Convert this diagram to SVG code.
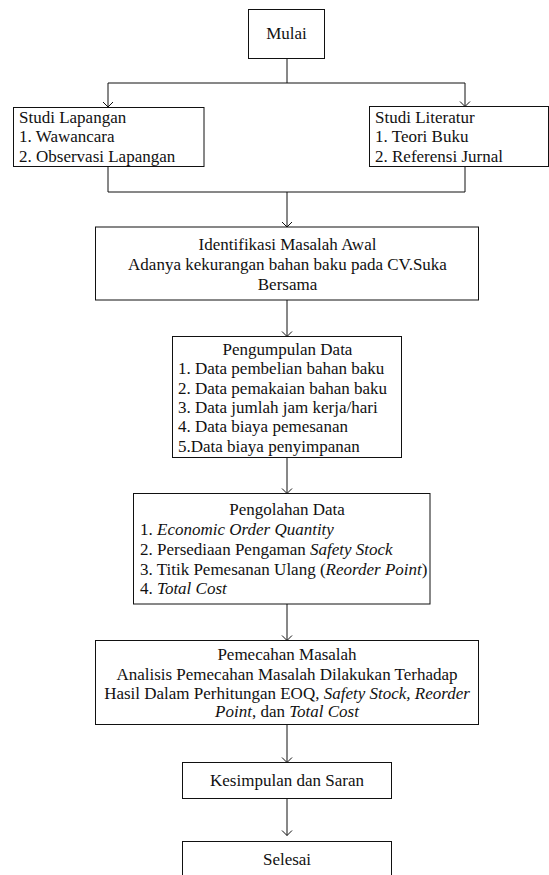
<svg xmlns="http://www.w3.org/2000/svg" width="549" height="875" viewBox="0 0 549 875">
<style>
  .box { fill: #fff; stroke: #111; stroke-width: 1; }
  .t { font-family: 'Liberation Serif', 'DejaVu Serif', serif; font-size: 17px; fill: #111; }
  .c { text-anchor: middle; }
  .i { font-style: italic; }
  .ln { fill: none; stroke: #111; stroke-width: 1; }
</style>
<defs>
  <marker id="arr" viewBox="-6 -6 12 12" refX="0" refY="0" markerWidth="12" markerHeight="12" markerUnits="userSpaceOnUse" orient="auto" overflow="visible">
    <path d="M-5,-5 L0,0 L-5,5" fill="none" stroke="#111" stroke-width="1"/>
  </marker>
</defs>
<rect width="549" height="875" fill="#fff"/>

<g id="connectors">
  <path class="ln" d="M287 58.5 V83"/>
  <path class="ln" d="M108 83 H465"/>
  <path class="ln" d="M108 83 V107" marker-end="url(#arr)"/>
  <path class="ln" d="M465 83 V106.5" marker-end="url(#arr)"/>
  <path class="ln" d="M108 166.5 V192 H465 V166.5"/>
  <path class="ln" d="M287 192 V227" marker-end="url(#arr)"/>
  <path class="ln" d="M287 300 V336.5" marker-end="url(#arr)"/>
  <path class="ln" d="M287 457.5 V493.5" marker-end="url(#arr)"/>
  <path class="ln" d="M287 604 V640.5" marker-end="url(#arr)"/>
  <path class="ln" d="M287 724.5 V762.5" marker-end="url(#arr)"/>
  <path class="ln" d="M287 798.5 V835.5" marker-end="url(#arr)"/>
</g>

<g id="mulai">
  <rect class="box" x="248.5" y="9.5" width="76" height="49"/>
  <text class="t c" x="286.5" y="39">Mulai</text>
</g>

<g id="studi-lapangan">
  <rect class="box" x="13.5" y="107.5" width="190.5" height="59"/>
  <text class="t" x="19" y="123">Studi Lapangan</text>
  <text class="t" x="19" y="142">1. Wawancara</text>
  <text class="t" x="19" y="161.5">2. Observasi Lapangan</text>
</g>

<g id="studi-literatur">
  <rect class="box" x="369.5" y="106.5" width="179" height="60"/>
  <text class="t" x="375" y="122.5">Studi Literatur</text>
  <text class="t" x="375" y="142">1. Teori Buku</text>
  <text class="t" x="375" y="161.5">2. Referensi Jurnal</text>
</g>

<g id="identifikasi">
  <rect class="box" x="95.5" y="227" width="383" height="73"/>
  <text class="t c" x="287.5" y="249.5">Identifikasi Masalah Awal</text>
  <text class="t c" x="287.5" y="270">Adanya kekurangan bahan baku pada CV.Suka</text>
  <text class="t c" x="287.5" y="289.5">Bersama</text>
</g>

<g id="pengumpulan">
  <rect class="box" x="172.5" y="336.5" width="229" height="121"/>
  <text class="t c" x="287.5" y="355">Pengumpulan Data</text>
  <text class="t" x="178" y="374">1. Data pembelian bahan baku</text>
  <text class="t" x="178" y="393.5">2. Data pemakaian bahan baku</text>
  <text class="t" x="178" y="413">3. Data jumlah jam kerja/hari</text>
  <text class="t" x="178" y="432">4. Data biaya pemesanan</text>
  <text class="t" x="178" y="451.5">5.Data biaya penyimpanan</text>
</g>

<g id="pengolahan">
  <rect class="box" x="133.5" y="493.5" width="296.5" height="110.5"/>
  <text class="t c" x="287" y="515">Pengolahan Data</text>
  <text class="t" x="140" y="535">1. <tspan class="i">Economic Order Quantity</tspan></text>
  <text class="t" x="140" y="555">2. Persediaan Pengaman <tspan class="i">Safety Stock</tspan></text>
  <text class="t" x="140" y="574.5">3. Titik Pemesanan Ulang (<tspan class="i">Reorder Point</tspan>)</text>
  <text class="t" x="140" y="593.5">4. <tspan class="i">Total Cost</tspan></text>
</g>

<g id="pemecahan">
  <rect class="box" x="95.5" y="640.5" width="383" height="84"/>
  <text class="t c" x="287" y="660">Pemecahan Masalah</text>
  <text class="t c" x="287" y="679.5">Analisis Pemecahan Masalah Dilakukan Terhadap</text>
  <text class="t c" x="287" y="699">Hasil Dalam Perhitungan EOQ, <tspan class="i">Safety Stock, Reorder</tspan></text>
  <text class="t c" x="287" y="717"><tspan class="i">Point</tspan>, dan <tspan class="i">Total Cost</tspan></text>
</g>

<g id="kesimpulan">
  <rect class="box" x="182.5" y="762.5" width="209" height="36"/>
  <text class="t c" x="287" y="786">Kesimpulan dan Saran</text>
</g>

<g id="selesai">
  <rect class="box" x="182.5" y="841.5" width="209" height="40"/>
  <text class="t c" x="287" y="865">Selesai</text>
</g>
</svg>
